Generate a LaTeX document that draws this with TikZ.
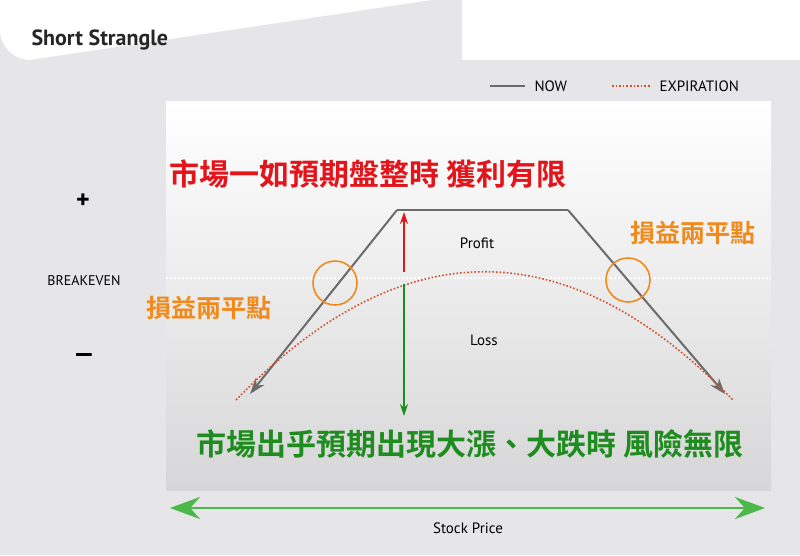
\documentclass[tikz,border=0pt]{standalone}
\usepackage{fontspec}
\setmainfont{PT Sans}
\newfontfamily\cjk{Noto Sans CJK TC Bold}
\usetikzlibrary{arrows.meta}
\definecolor{panelgray}{HTML}{E6E6E8}
\definecolor{nowgray}{HTML}{6B6B6E}
\definecolor{expred}{HTML}{D2502A}
\definecolor{hotorange}{HTML}{F08A1C}
\definecolor{profred}{HTML}{E4141B}
\definecolor{lossgreen}{HTML}{1E8C1E}
\definecolor{axisgreen}{HTML}{4CB84A}
\tikzset{
  nowline/.style={draw=nowgray, line width=2pt},
  expline/.style={draw=expred, line width=1.6pt, dotted},
  cjktext/.style={font=\cjk\fontsize{#1}{#1}\selectfont},
  bering/.style={draw=hotorange, line width=1.6pt, circle, minimum size=44pt, inner sep=0pt}
}
\begin{document}
\begin{tikzpicture}[x=1pt,y=-1pt]

\useasboundingbox (0,0) rectangle (800,555);
\fill[white] (0,0) rectangle (800,555);

% tab and panel
\fill[panelgray] (0,555) -- (0,30) arc[start angle=180,end angle=90,radius=30] -- (432,0)
  arc[start angle=90,end angle=0,radius=30] -- (462,60) -- (800,60) -- (800,555) -- cycle;
\node[anchor=west, font=\bfseries\fontsize{22}{22}\selectfont, text=black!85] (title) at (28,40) {Short Strangle};

% legend
\coordinate (nowa) at (490,86);
\coordinate (nowb) at (525,86);
\draw[nowline] (nowa) -- (nowb);
\node[anchor=west, font=\fontsize{15}{15}\selectfont] (nowlbl) at (531,86) {NOW};
\coordinate (expa) at (612,86);
\coordinate (expb) at (650,86);
\draw[expline] (expa) -- (expb);
\node[anchor=west, font=\fontsize{15}{15}\selectfont] (explbl) at (656,86) {EXPIRATION};

% plot area
\shade[top color=white, bottom color=panelgray!85!gray] (166,101) rectangle (771,490);

\coordinate (bel) at (166,278);
\coordinate (ber) at (771,278);
\draw[white, line width=2pt, dotted] (bel) -- (ber);
\node[font=\fontsize{14}{14}\selectfont] (be) at (84,281) {BREAKEVEN};
\node[font=\bfseries\fontsize{26}{26}\selectfont] (plus) at (83,201) {+};
\node[font=\bfseries\fontsize{26}{26}\selectfont] (minus) at (84,358) {---};

% payoff now
\coordinate (nl) at (250,394);
\coordinate (nt1) at (397,210);
\coordinate (nt2) at (568,210);
\coordinate (nr) at (725,394);
\draw[nowline, -{Stealth[length=16pt,width=11pt]}] (nt1) -- (nl);
\draw[nowline, -{Stealth[length=16pt,width=11pt]}] (nt2) -- (nr);
\draw[nowline] (nt1) -- (nt2);

% payoff expiration
\coordinate (el) at (236,400);
\coordinate (er) at (733,400);
\draw[expline] (el) .. controls (402,229) and (567,229) .. (er);

% profit / loss arrows
\coordinate (pa) at (404,272);
\coordinate (pb) at (404,212);
\coordinate (la) at (404,284);
\coordinate (lb) at (404,416);
\draw[profred, line width=1.6pt, -{Stealth[length=12pt,width=8pt]}] (pa) -- (pb);
\draw[lossgreen, line width=1.6pt, -{Stealth[length=12pt,width=8pt]}] (la) -- (lb);
\node[font=\fontsize{15}{15}\selectfont] (profit) at (477,243) {Profit};
\node[font=\fontsize{15}{15}\selectfont] (loss) at (484,340) {Loss};

% breakeven marks
\node[bering] (bel1) at (335,283) {};
\node[bering] (ber1) at (628,280) {};
\node[cjktext=25, text=hotorange] (beleft) at (209,308) {損益兩平點};
\node[cjktext=25, text=hotorange] (beright) at (693,233) {損益兩平點};

% captions
\node[cjktext=30, text=profred, anchor=west] (gain) at (166,174) {市場一如預期盤整時 獲利有限};
\node[cjktext=30, text=lossgreen] (risk) at (470,444) {市場出乎預期出現大漲、大跌時 風險無限};

% stock price axis
\coordinate (sa) at (170,508);
\coordinate (sb) at (765,508);
\draw[axisgreen, line width=2.5pt, {Stealth[length=30pt,width=22pt]}-{Stealth[length=30pt,width=22pt]}] (sa) -- (sb);
\node[font=\fontsize{15}{15}\selectfont] (stock) at (468,528) {Stock Price};

\end{tikzpicture}
\end{document}
